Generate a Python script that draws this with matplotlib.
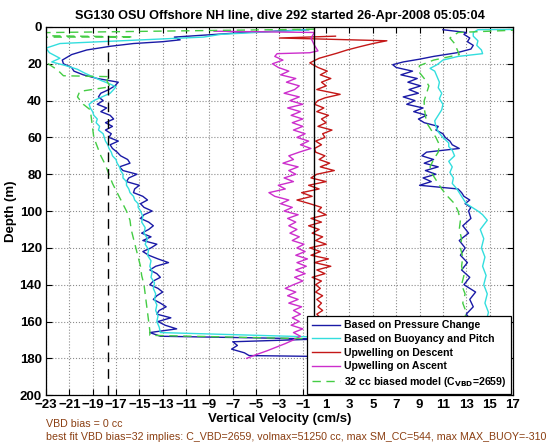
import matplotlib
matplotlib.use("Agg")
import matplotlib.pyplot as plt

plt.rcParams['font.family'] = ['Liberation Sans', 'DejaVu Sans']

TITLE = "SG130 OSU Offshore NH line, dive 292 started 26-Apr-2008 05:05:04"
NOTE_1 = "VBD bias = 0 cc"
NOTE_2 = ("best fit VBD bias=32 implies: C_VBD=2659, volmax=51250 cc, "
          "max SM_CC=544, max MAX_BUOY=-310")

X_TICKS = [-23, -21, -19, -17, -15, -13, -11, -9, -7, -5, -3, -1,
           1, 3, 5, 7, 9, 11, 13, 15, 17]
Y_TICKS = [0, 20, 40, 60, 80, 100, 120, 140, 160, 180, 200]
CUTOFF_W = -17.7

# --- based on pressure change (descent then ascent) ---
press_depth = [
    1.5, 3, 5.5, 7, 8, 9, 10.5, 12.5, 15, 18,
    20, 22, 24, 26, 28, 30, 32, 34, 36, 38,
    40, 42, 44, 46, 48, 50, 52, 54, 56, 58,
    60, 62, 64, 66, 68, 70, 72, 74, 76, 78,
    80, 82, 84, 86, 88, 90, 92, 94, 96, 98,
    100, 102, 104, 106, 108, 110, 112, 114, 116, 118,
    120, 122, 124, 126, 128, 130, 132, 134, 136, 138,
    140, 142, 144, 146, 148, 150, 152, 154, 156, 158,
    160, 162, 164, 166, 168, 169.5, 171, 173, 175, 177,
    178.5,
    180, 176, 172, 168, 164, 160, 156, 152, 148, 144,
    140, 136, 132, 128, 124, 120, 116, 112, 108, 104,
    100, 98, 96, 94, 92, 90, 88, 86, 84, 82,
    80, 78, 76, 74, 72, 70, 68, 66, 64, 62,
    60, 58, 56, 54, 52, 50, 48, 46, 44, 42,
    40, 38, 36, 34, 32, 30, 28, 26, 24, 22,
    20.5, 19, 17.5, 16, 14, 12, 10, 8, 6, 4,
    3, 1.5,
]
press_w = [
    -0.5, -6, -12, -11.5, -13, -15.5, -17.5, -19.5, -20.8, -21.6,
    -21.5, -20.8, -20.6, -19.8, -18.6, -16.8, -17.1, -17.6, -18.3, -18.5,
    -18.1, -18.6, -17.8, -18.3, -17.5, -17.2, -17.9, -17.3, -17.9, -17.4,
    -17.6, -16.8, -17.5, -17.3, -16.9, -16.6, -16.0, -15.8, -16.7, -16.4,
    -15.2, -15.9, -16.1, -15.0, -15.4, -15.5, -14.7, -14.3, -14.9, -14.6,
    -13.9, -14.6, -14.9, -14.2, -13.8, -14.2, -14.8, -14.0, -14.7, -13.5,
    -14.0, -14.7, -14.2, -13.4, -12.5, -13.6, -14.1, -13.5, -13.2, -13.8,
    -14.1, -13.4, -13.0, -13.5, -13.8, -13.2, -12.7, -13.3, -13.5, -12.3,
    -13.4, -12.8, -11.8, -14.1, -13.2, 0.5, -7.0, -6.6, -7.1, -6.0,
    -5.6,
    13.0, 13.4, 12.8, 13.6, 13.1, 13.5, 13.0, 13.6, 13.3, 13.8,
    12.8, 13.3, 12.6, 13.1, 12.5, 12.9, 12.4, 13.2, 12.7, 13.4,
    13.2, 13.4, 12.9, 13.3, 12.8, 12.6, 12.3, 9.0, 10.0, 9.3,
    10.4, 9.5, 10.6, 9.4, 10.2, 9.2, 9.6, 12.4, 11.8, 11.6,
    11.2, 11.0, 10.4, 10.6, 9.4, 8.9, 9.6, 8.5, 9.3, 7.9,
    8.6, 7.6, 8.9, 8.1, 9.1, 8.0, 8.8, 7.4, 8.4, 7.0,
    6.7, 7.6, 9.0, 10.2, 12.2, 13.4, 13.6, 13.1, 13.3, 12.8,
    13.0, 11.0,
]

# --- based on buoyancy and pitch ---
buoy_depth = [
    1.5, 4, 5.5, 9, 11.5, 14, 17, 19, 21, 23,
    25, 27, 29, 31, 32.5, 34, 36, 38, 40, 42,
    44, 46, 48, 50, 52, 54, 56, 58, 60, 62,
    64, 66, 68, 70, 72, 74, 76, 78, 80, 82,
    84, 86, 88, 90, 92, 94, 96, 98, 100, 103,
    106, 109, 112, 115, 118, 121, 124, 127, 130, 133,
    136, 139, 142, 145, 148, 151, 154, 157, 160, 163,
    166, 168.5,
    176, 170, 165, 160, 155, 150, 145, 140, 135, 130,
    125, 120, 115, 110, 105, 102, 100, 98, 96, 94,
    91, 88, 85, 82, 79, 76, 73, 70, 67, 65,
    63, 60, 57, 54, 51, 48, 45, 42, 39, 36,
    33, 30, 27, 24, 22.5, 20.5, 18, 16, 14.5, 12.5,
    10, 7.5, 5, 3, 1.5, 1.2,
]
buoy_w = [
    -0.5, -8, -9.5, -21.8, -23.0, -22.7, -21.8, -22.5, -21.3, -20.3,
    -19.7, -19.0, -18.3, -17.5, -17.0, -17.2, -17.5, -18.2, -18.9, -19.3,
    -19.2, -19.0, -18.9, -18.6, -18.7, -18.4, -18.5, -18.1, -18.0, -17.9,
    -17.7, -17.6, -17.4, -17.3, -17.0, -16.9, -16.7, -16.6, -16.4, -16.4,
    -16.1, -16.1, -15.9, -15.8, -15.5, -15.4, -15.1, -15.1, -14.9, -14.7,
    -14.8, -14.5, -14.6, -14.3, -14.5, -14.2, -14.3, -14.0, -14.1, -13.9,
    -14.0, -13.7, -13.8, -13.6, -13.7, -13.5, -13.6, -13.4, -13.5, -13.3,
    -13.2, 0.5,
    15.0, 14.8, 15.0, 14.7, 14.9, 14.6, 14.8, 14.5, 14.7, 14.4,
    14.6, 14.3, 14.5, 14.2, 14.8, 14.4, 14.0, 13.5, 13.0, 12.8,
    12.5, 12.2, 11.8, 11.9, 11.6, 11.8, 11.5, 12.0, 11.8, 11.5,
    11.5, 11.0, 10.6, 10.4, 10.3, 10.6, 10.9, 11.0, 10.7, 10.9,
    10.6, 10.7, 10.5, 10.3, 9.9, 10.5, 11.0, 12.3, 14.4, 14.3,
    13.9, 14.0, 13.6, 13.6, 14.0, 20.0,
]

# --- upwelling on descent ---
updesc_depth = [
    5, 6, 6.5, 7.5, 9, 10.7, 12.5, 14.3, 17, 19.5,
    22, 24, 26, 28, 30, 32, 34, 36.6, 38.5, 40,
    42, 44, 46, 48, 50, 52, 54, 56, 58, 60,
    62, 64, 66, 68, 70, 72, 74, 76, 78, 80,
    82, 84, 86, 88, 90, 92, 94, 96, 98, 100,
    102, 104, 106, 108, 110, 112, 114, 116, 118, 120,
    122, 124, 126, 128, 130, 132, 134, 136, 138, 140,
    142, 144, 146, 148, 150, 152, 154, 156, 158, 160,
    162, 164, 166, 168,
]
updesc_w = [
    1.8, -3.0, 0.2, 6.2, 5.0, 3.9, 2.8, 1.9, 0.4, -0.4,
    0.3, 1.1, 0.5, 1.4, 0.6, 1.0, 0.2, 2.2, 0.9, 0.3,
    0.0, 0.8, 0.2, 1.2, 0.6, 1.0, 0.3, 1.5, 0.7, 0.9,
    0.1, 0.6, 0.0, 0.1, 0.9, 0.4, 1.3, 0.5, 1.7, 0.2,
    -0.3, 1.0, -0.5, 0.4, -1.1, -0.2, -1.5, -0.4, 0.6, 0.3,
    1.0, -0.3, 0.6, -0.5, 0.4, -0.2, 0.7, 0.1, 1.0, -0.4,
    0.5, -0.3, 1.2, 0.0, 1.4, 0.2, 0.9, -0.2, 0.6, 0.1,
    0.5, 0.1, 0.7, 0.2, 0.6, 0.3, 0.7, 0.2, 0.5, 0.4,
    0.7, 0.5, 0.3, 0.6,
]

# --- upwelling on ascent (bottom to surface) ---
upasc_depth = [
    180, 178, 176, 174, 172, 170, 168, 166, 164, 162,
    160, 158, 156, 154, 152, 150, 148, 146, 144, 142,
    140, 138, 136, 134, 132, 130, 128, 126, 124, 122,
    120, 118, 116, 114, 112, 110, 108, 106, 104, 102,
    100, 98, 96, 94, 92, 90, 88, 86, 84, 82,
    80, 78, 76, 74, 72, 70, 68, 66, 64, 62,
    60, 58, 56, 54, 52, 50, 48, 46, 44, 42,
    40, 38, 36, 34, 32, 30, 28, 26, 24, 22,
    20, 18, 16, 14.5, 14, 13, 10, 6, 3, 2.3,
]
upasc_w = [
    -5.8, -5.0, -4.1, -3.3, -2.5, -1.8, -1.2, -1.8, -1.0, -2.0,
    -1.3, -1.9, -1.2, -1.8, -1.1, -2.2, -1.4, -2.3, -1.6, -2.5,
    -1.8, -1.0, -1.7, -0.8, -1.6, -0.7, -1.5, -0.6, -1.6, -0.8,
    -1.5, -0.9, -1.9, -1.3, -2.1, -1.5, -2.2, -1.6, -2.3, -1.4,
    -2.6, -1.9, -2.9, -2.2, -3.4, -3.9, -2.5, -3.1, -1.8, -2.6,
    -1.6, -2.2, -1.4, -2.7, -1.8, -2.2, -1.3, -0.3, -1.2, -0.5,
    -1.5, -0.8, -1.8, -1.0, -1.9, -1.0, -2.0, -1.2, -2.3, -1.0,
    -2.1, -1.3, -2.6, -1.7, -1.3, -2.4, -1.6, -2.9, -2.2, -3.1,
    -3.6, -2.7, -3.4, -3.2, -0.4, 0.3, 0.0, -0.3, 0.0, -8.6,
]

# --- 32 cc biased model ---
model_depth = [
    1.2, 3.3, 4.5, 5.4, 5.6, 18, 19.6, 23.4, 26.5, 27,
    29, 32.5, 35, 38, 42, 45, 50, 55, 60, 65,
    70, 75, 80, 85, 90, 95, 100, 105, 110, 115,
    120, 125, 130, 135, 140, 145, 150, 155, 160, 165,
    167.5, 169.5,
    178, 172, 166, 160, 155, 150, 145, 140, 135, 130,
    125, 120, 115, 110, 105, 100, 96, 92, 88, 84,
    80, 76, 72, 68, 64, 60, 56, 52, 48, 44,
    40, 36, 32, 28, 24, 21, 18, 15, 12, 9,
    6, 3, 1.0,
]
model_w = [
    0.0, -26, -26, -15.5, -26, -26, -22.9, -22.0, -21.5, -17.5,
    -17.8, -17.5, -20.1, -20.3, -19.8, -19.2, -19.1, -19.0, -18.9, -18.6,
    -18.3, -17.9, -17.6, -17.3, -16.9, -16.5, -16.1, -15.8, -15.7, -15.5,
    -15.3, -15.1, -14.9, -14.8, -14.6, -14.5, -14.4, -14.3, -14.2, -14.1,
    -14.1, 0.5,
    13.2, 12.9, 13.1, 12.8, 13.0, 12.7, 12.9, 12.6, 12.8, 12.6,
    12.7, 12.5, 12.6, 12.4, 12.5, 12.3, 12.0, 11.4, 10.9, 10.5,
    10.1, 9.9, 10.2, 10.6, 10.7, 10.4, 10.0, 9.6, 9.5, 9.4,
    9.4, 9.6, 9.8, 9.4, 8.9, 9.0, 10.2, 12.4, 12.2, 12.0,
    11.6, 12.3, 20.0,
]

fig = plt.figure(figsize=(5.6, 4.42), dpi=100, facecolor='white')
ax = fig.add_axes([0.082, 0.106, 0.834, 0.833])

ax.plot(press_w, press_depth, color='#1a1aa6', lw=1.0, label='Based on Pressure Change')
ax.plot(buoy_w, buoy_depth, color='#33dede', lw=1.0, label='Based on Buoyancy and Pitch')
ax.plot(updesc_w, updesc_depth, color='#c41818', lw=1.0, label='Upwelling on Descent')
ax.plot(upasc_w, upasc_depth, color='#cc2ecc', lw=1.0, label='Upwelling on Ascent')
ax.plot(model_w, model_depth, color='#44cc44', lw=1.0, ls=(0, (6, 4)),
        label='32 cc biased model (C$_{\\mathbf{VBD}}$=2659)')

ax.axvline(0, color='black', lw=1.0)
ax.axvline(CUTOFF_W, color='black', lw=1.0, ls=(0, (7, 5)))

ax.set_xlim(-23, 17)
ax.set_ylim(200, 0)
ax.set_xticks(X_TICKS)
ax.set_yticks(Y_TICKS)
ax.tick_params(direction='in', top=True, right=True, length=4, width=0.8,
               labelsize=9.5, pad=3)
for lab in ax.get_xticklabels() + ax.get_yticklabels():
    lab.set_fontweight('bold')
ax.grid(True, ls=':', color='0.55', lw=0.8)
for sp in ax.spines.values():
    sp.set_linewidth(0.9)

ax.set_title(TITLE, fontsize=9.2, fontweight='bold', pad=6)
ax.set_xlabel('Vertical Velocity (cm/s)', fontsize=9.5, fontweight='bold', labelpad=1)
ax.set_ylabel('Depth (m)', fontsize=9.5, fontweight='bold', labelpad=2)

leg = ax.legend(loc='lower right', fancybox=False, edgecolor='black', framealpha=1,
                prop={'weight': 'bold', 'size': 7.6}, handlelength=2.6,
                borderaxespad=0.15, labelspacing=0.34, borderpad=0.45, handletextpad=0.45)
leg.get_frame().set_linewidth(0.9)

brown = '#8b3f12'
fig.text(46 / 560, 1 - 424 / 442, NOTE_1, color=brown, fontsize=7.7, va='center')
fig.text(46 / 560, 1 - 437 / 442, NOTE_2, color=brown, fontsize=7.7, va='center')

fig.savefig('out.png', dpi=100)
